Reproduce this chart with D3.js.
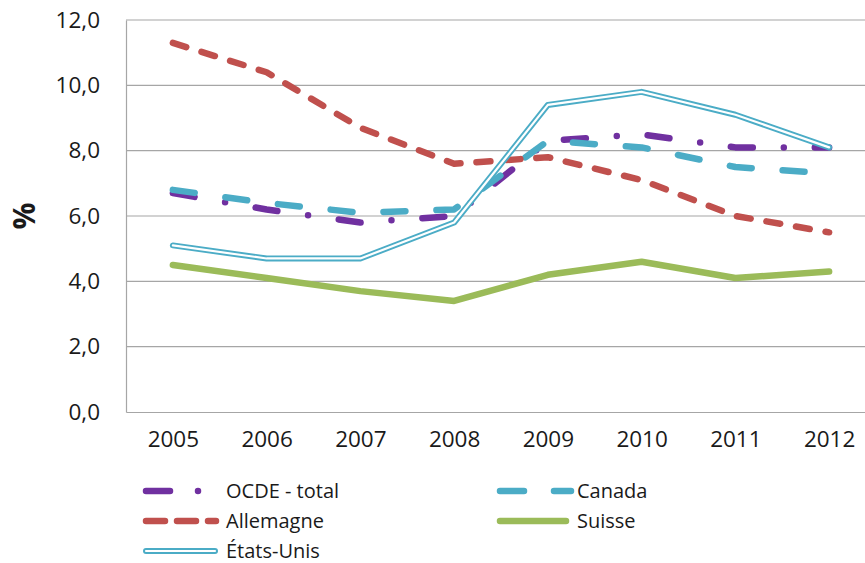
<!DOCTYPE html>
<html>
<head>
<meta charset="utf-8">
<script src="https://cdn.jsdelivr.net/npm/d3@7"></script>
<style>
  html, body { margin: 0; padding: 0; background: #fff; }
  svg { display: block; font-family: "Open Sans", sans-serif; }
</style>
</head>
<body>
<svg id="chart" width="865" height="563"></svg>
<script>
const years = ["2005", "2006", "2007", "2008", "2009", "2010", "2011", "2012"];
const yTicks = [0, 2, 4, 6, 8, 10, 12];
const ocde      = [6.7, 6.2, 5.8, 6.0, 8.3, 8.5, 8.1, 8.1];
const canada    = [6.8, 6.4, 6.1, 6.2, 8.3, 8.1, 7.5, 7.3];
const allemagne = [11.3, 10.4, 8.7, 7.6, 7.8, 7.1, 6.0, 5.5];
const suisse    = [4.5, 4.1, 3.7, 3.4, 4.2, 4.6, 4.1, 4.3];
const etatsUnis = [5.1, 4.7, 4.7, 5.8, 9.4, 9.8, 9.1, 8.1];
const seriesNames = ["OCDE - total", "Canada", "Allemagne", "Suisse", "États-Unis"];
const yLabel = "%";

(function () {
const svg = d3.select("#chart");
const mLeft = 126, mTop = 20, mBottom = 412, plotRight = 876;

const x = d3.scalePoint().domain(years).range([mLeft, plotRight]).padding(0.5);
const y = d3.scaleLinear().domain([0, 12]).range([mBottom, mTop]);

// gridlines
svg.append("g").selectAll("line").data(yTicks.filter(d => d > 0)).join("line")
  .attr("x1", mLeft).attr("x2", 865)
  .attr("y1", d => y(d)).attr("y2", d => y(d))
  .attr("stroke", "#a6a6a6").attr("stroke-width", 1.2);

// axes
const yAxis = d3.axisLeft(y).tickValues(yTicks).tickSize(0).tickPadding(26)
  .tickFormat(d => d3.format(".1f")(d).replace(".", ","));
const gy = svg.append("g").attr("transform", `translate(${mLeft},0)`).call(yAxis);
gy.select(".domain").attr("stroke", "#a6a6a6").attr("stroke-width", 1.2);
gy.selectAll("text").attr("font-size", 22.5).attr("fill", "#1a1a1a")
  .attr("font-family", "'Open Sans', sans-serif");

const xAxis = d3.axisBottom(x).tickSize(0).tickPadding(19);
const gx = svg.append("g").attr("transform", `translate(0,${mBottom})`).call(xAxis);
gx.select(".domain").attr("stroke", "#a6a6a6").attr("stroke-width", 1.2);
gx.selectAll("text").attr("font-size", 22.5).attr("fill", "#1a1a1a")
  .attr("font-family", "'Open Sans', sans-serif");

svg.append("text").attr("transform", `translate(35,${y(6)}) rotate(-90)`)
  .attr("text-anchor", "middle").attr("font-size", 30).attr("font-weight", "bold")
  .attr("fill", "#1a1a1a").text(yLabel);

const line = d3.line().x((d, i) => x(years[i])).y(d => y(d));

const styles = [
  { data: ocde, color: "#7030a0", dash: "22,31,0,31", w: 6.5 },
  { data: canada, color: "#4bacc6", dash: "22,31", w: 6.5 },
  { data: allemagne, color: "#c0504d", dash: "14,16", w: 6.5 },
  { data: suisse, color: "#9bbb59", dash: null, w: 6.5 },
];
styles.forEach(s => {
  svg.append("path").attr("d", line(s.data)).attr("fill", "none")
    .attr("stroke", s.color).attr("stroke-width", s.w)
    .attr("stroke-linecap", "round").attr("stroke-linejoin", "round")
    .attr("stroke-dasharray", s.dash);
});
// États-Unis double line
svg.append("path").attr("d", line(etatsUnis)).attr("fill", "none")
  .attr("stroke", "#4bacc6").attr("stroke-width", 6).attr("stroke-linejoin", "round")
  .attr("stroke-linecap", "round");
svg.append("path").attr("d", line(etatsUnis)).attr("fill", "none")
  .attr("stroke", "#fff").attr("stroke-width", 2.2).attr("stroke-linejoin", "round")
  .attr("stroke-linecap", "round");

// legend
const leg = svg.append("g");
const legItems = [
  { name: seriesNames[0], x1: 146, x2: 202, y: 491, color: "#7030a0", dash: "24,28,0,40", tx: 226 },
  { name: seriesNames[1], x1: 500, x2: 571, y: 491, color: "#4bacc6", dash: "24,30", tx: 577 },
  { name: seriesNames[2], x1: 146, x2: 216, y: 521, color: "#c0504d", dash: "19,12", tx: 226 },
  { name: seriesNames[3], x1: 500, x2: 566, y: 521, color: "#9bbb59", dash: null, tx: 577 },
];
legItems.forEach(it => {
  leg.append("line").attr("x1", it.x1).attr("x2", it.x2).attr("y1", it.y).attr("y2", it.y)
    .attr("stroke", it.color).attr("stroke-width", 6.5).attr("stroke-linecap", "round")
    .attr("stroke-dasharray", it.dash);
  leg.append("text").attr("x", it.tx).attr("y", it.y).attr("dy", "0.35em")
    .attr("font-size", 20).attr("fill", "#1a1a1a").text(it.name);
});
leg.append("line").attr("x1", 146).attr("x2", 215).attr("y1", 551).attr("y2", 551)
  .attr("stroke", "#4bacc6").attr("stroke-width", 6).attr("stroke-linecap", "round");
leg.append("line").attr("x1", 146).attr("x2", 215).attr("y1", 551).attr("y2", 551)
  .attr("stroke", "#fff").attr("stroke-width", 2.2).attr("stroke-linecap", "round");
leg.append("text").attr("x", 226).attr("y", 551).attr("dy", "0.35em")
  .attr("font-size", 20).attr("fill", "#1a1a1a").text(seriesNames[4]);
})();
</script>
</body>
</html>
